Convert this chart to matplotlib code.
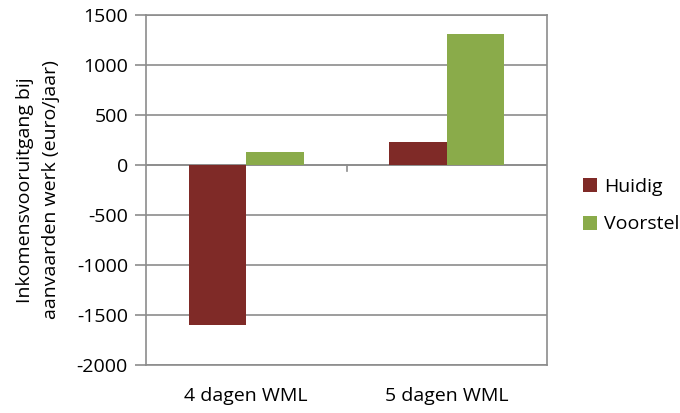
import numpy as np
import matplotlib
matplotlib.use("Agg")
from matplotlib import pyplot as plt

# data
categories = ["4 dagen WML", "5 dagen WML"]
huidig = [-1600, 230]
voorstel = [125, 1310]
series_names = ["Huidig", "Voorstel"]
y_ticks = [-2000, -1500, -1000, -500, 0, 500, 1000, 1500]

plt.rcParams['font.family'] = ['Open Sans', 'DejaVu Sans']

fig = plt.figure(figsize=(6.8, 4.13), dpi=100)
ax = fig.add_axes([146 / 680, 48 / 413, 401 / 680, 350 / 413])

grid_col = "#8c8c8c"
w = 1 / 3.5
x = np.arange(len(categories))
ax.bar(x - w / 2, huidig, w, color="#7f2a27", label=series_names[0], zorder=3)
ax.bar(x + w / 2, voorstel, w, color="#8aab4a", label=series_names[1], zorder=3)

ax.set_xlim(-0.5, 1.5)
ax.set_ylim(-2000, 1500)
ax.set_yticks(y_ticks)
ax.set_yticklabels([str(t) for t in y_ticks], fontsize=14)
ax.yaxis.grid(True, color=grid_col, linewidth=1.2, zorder=0)
ax.tick_params(axis="y", length=8, color=grid_col, width=1.2, pad=5)

# category axis sits on zero, tick in the middle
ax.axhline(0, color=grid_col, linewidth=1.2, zorder=2)
ax.plot([0.5, 0.5], [0, -60], color=grid_col, linewidth=1.2, zorder=2)
ax.set_xticks(x)
ax.set_xticklabels(categories, fontsize=14)
ax.tick_params(axis="x", length=0, pad=16)

for s in ax.spines.values():
    s.set_color(grid_col)
    s.set_linewidth(1.2)

ax.set_ylabel("Inkomensvooruitgang bij\naanvaarden werk (euro/jaar)", fontsize=14,
              linespacing=1.6, labelpad=12)

ax.legend(loc="center left", bbox_to_anchor=(1.045, 0.455), frameon=False, fontsize=14,
          handlelength=0.75, handleheight=0.75, handletextpad=0.35, labelspacing=1.0)

fig.savefig("out.png", dpi=100)
